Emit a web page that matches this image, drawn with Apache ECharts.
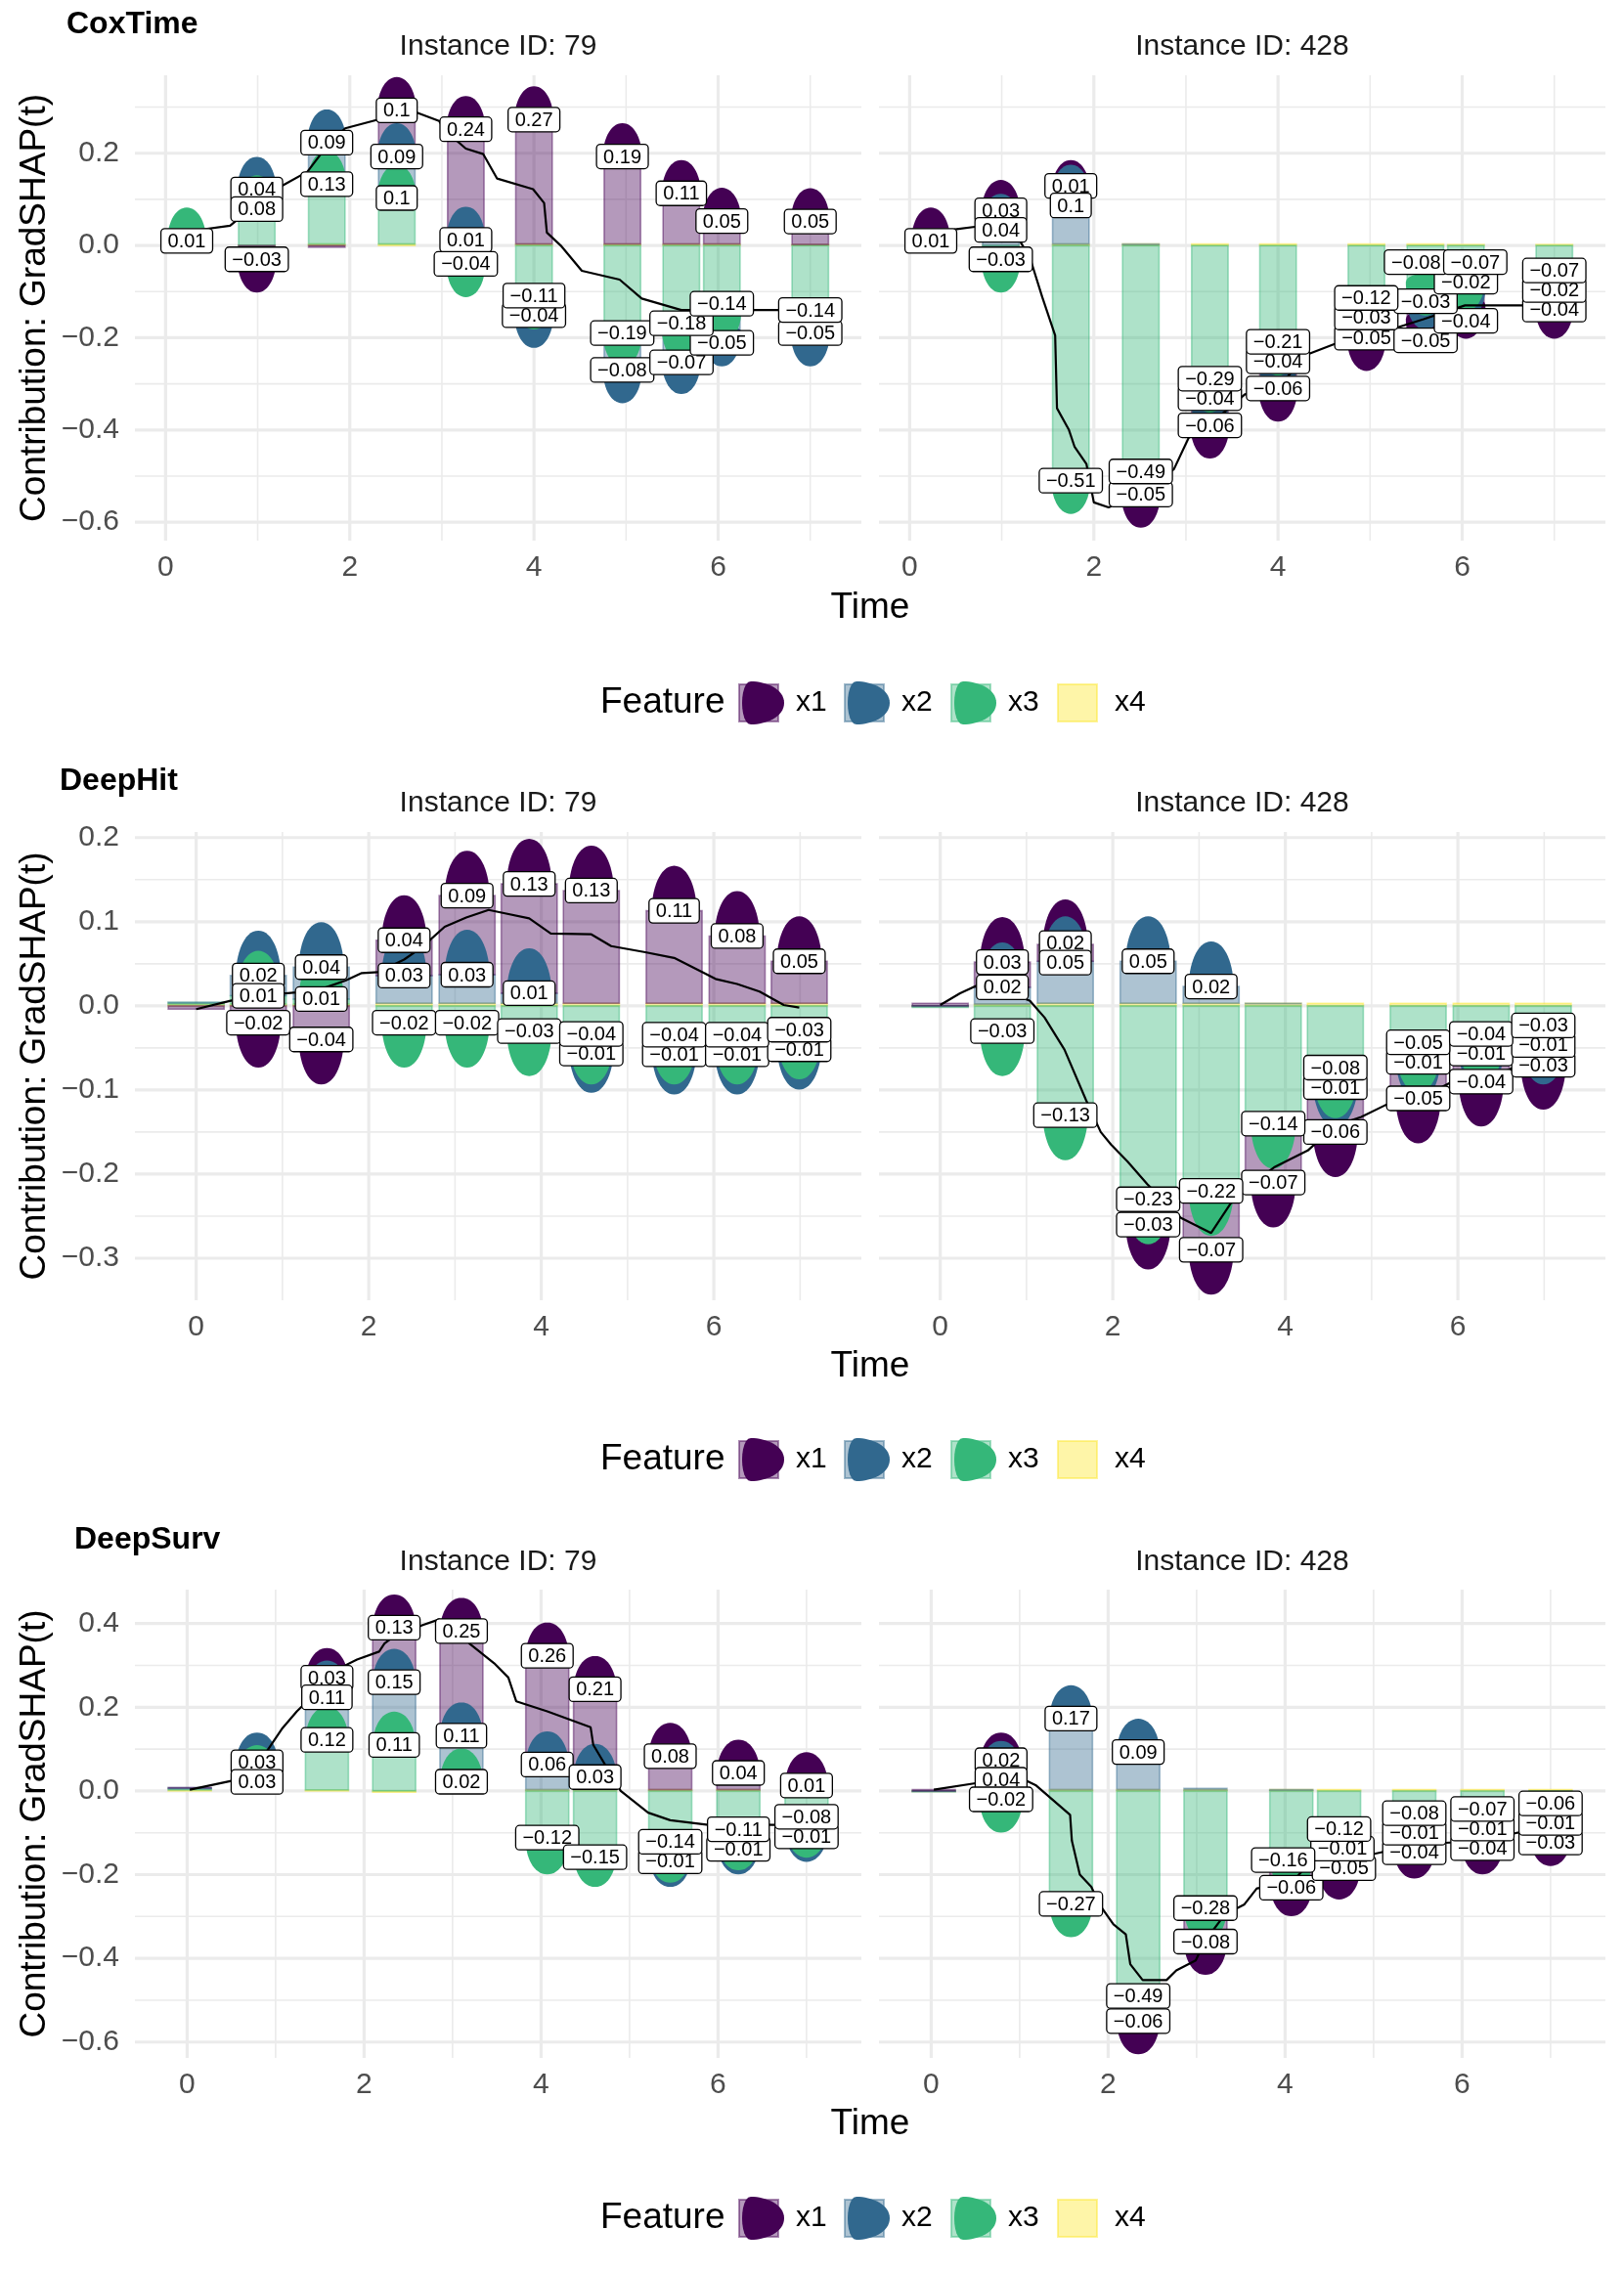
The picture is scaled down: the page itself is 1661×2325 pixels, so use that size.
<!DOCTYPE html>
<html>
<head>
<meta charset="UTF-8">
<title>GradSHAP(t) contributions</title>
<script src="https://cdn.jsdelivr.net/npm/echarts@6/dist/echarts.min.js"></script>
<style>
  body { margin: 0; background: #ffffff; }
  #chart { width: 1661px; height: 2325px; }
</style>
</head>
<body>
<div id="chart"></div>
<script>
// ---------------- data ----------------
const featureNames = ['x1', 'x2', 'x3', 'x4'];
const featureColors = ['#440154', '#31688E', '#35B779', '#FDE725'];

const xLabelValues = [0, 2, 4, 6];
const xMajor = [0, 2, 4, 6];
const xMinor = [1, 3, 5, 7];

// CoxTime
const coxTimes = [0.23, 0.99, 1.75, 2.51, 3.26, 4.0, 4.96, 5.6, 6.04, 7.0];
const coxYMajor = [-0.6, -0.4, -0.2, 0, 0.2];
const coxYMinor = [-0.5, -0.3, -0.1, 0.1, 0.3];
const cox79X1 = [0, -0.03, -0.004, 0.1, 0.24, 0.27, 0.19, 0.11, 0.05, 0.05];
const cox79X2 = [0, 0.04, 0.09, 0.09, 0.01, -0.04, -0.08, -0.07, -0.05, -0.05];
const cox79X3 = [0.01, 0.08, 0.13, 0.1, -0.04, -0.11, -0.19, -0.18, -0.14, -0.14];
const cox79X4 = [0, 0, 0.003, 0.003, 0.002, 0.003, 0.003, 0.003, 0.003, 0.002];
const cox79LineT = [0.23, 0.30, 0.70, 0.99, 1.27, 1.54, 1.75, 1.95, 2.31, 2.51, 2.73, 2.97, 3.03, 3.26, 3.45, 3.60, 3.99, 4.11, 4.14, 4.29, 4.52, 4.93, 5.17, 5.60, 6.04, 7.0];
const cox79LineY = [0.01, 0.032, 0.043, 0.09, 0.13, 0.16, 0.215, 0.254, 0.273, 0.29, 0.288, 0.27, 0.25, 0.21, 0.198, 0.145, 0.122, 0.092, 0.028, 0.0, -0.055, -0.074, -0.115, -0.14, -0.14, -0.14];
const cox428X1 = [0.01, 0.03, 0.01, -0.05, -0.06, -0.06, -0.05, -0.05, -0.04, -0.04];
const cox428X2 = [0, 0.04, 0.1, 0, -0.04, -0.04, -0.03, -0.03, -0.02, -0.02];
const cox428X3 = [0, -0.03, -0.51, -0.49, -0.29, -0.21, -0.12, -0.08, -0.07, -0.07];
const cox428X4 = [0, 0, 0.003, 0.003, 0.003, 0.003, 0.003, 0.003, 0.002, 0.002];
const cox428LineT = [0.23, 0.49, 0.73, 0.99, 1.20, 1.31, 1.44, 1.58, 1.60, 1.73, 1.79, 1.92, 2.00, 2.16, 2.51, 2.87, 3.03, 3.25, 3.64, 3.99, 4.32, 4.61, 4.94, 5.58, 6.03, 7.0];
const cox428LineY = [0.01, 0.035, 0.041, 0.04, 0.009, -0.029, -0.112, -0.195, -0.353, -0.40, -0.436, -0.474, -0.557, -0.568, -0.54, -0.485, -0.417, -0.39, -0.323, -0.31, -0.236, -0.214, -0.20, -0.16, -0.13, -0.13];

// DeepHit
const deepHitTimes = [0, 0.72, 1.45, 2.41, 3.14, 3.86, 4.58, 5.54, 6.27, 6.99];
const deepHitYMajor = [-0.3, -0.2, -0.1, 0, 0.1, 0.2];
const deepHitYMinor = [-0.25, -0.15, -0.05, 0.05, 0.15];
const deepHit79X1 = [-0.004, -0.02, -0.04, 0.042, 0.094, 0.13, 0.134, 0.11, 0.08, 0.05];
const deepHit79X2 = [0, 0.024, 0.038, 0.033, 0.034, 0.012, -0.01, -0.012, -0.012, -0.012];
const deepHit79X3 = [0.002, 0.01, 0.006, -0.02, -0.02, -0.03, -0.04, -0.04, -0.04, -0.034];
const deepHit79X4 = [0.002, 0.002, 0.002, 0.003, 0.003, 0.003, 0.003, 0.003, 0.003, 0.003];
const deepHit79LineT = [0, 0.4, 0.72, 1.16, 1.45, 1.73, 1.92, 2.11, 2.41, 2.62, 2.88, 3.13, 3.39, 3.58, 3.86, 4.11, 4.58, 4.81, 5.19, 5.54, 6.02, 6.27, 6.53, 6.81, 6.99];
const deepHit79LineY = [-0.004, 0.006, 0.012, 0.016, 0.02, 0.03, 0.039, 0.04, 0.055, 0.07, 0.094, 0.105, 0.114, 0.11, 0.104, 0.086, 0.085, 0.071, 0.064, 0.057, 0.032, 0.026, 0.017, 0.001, -0.002];
const deepHit428X1 = [0.003, 0.03, 0.02, -0.03, -0.07, -0.07, -0.06, -0.05, -0.04, -0.03];
const deepHit428X2 = [0, 0.02, 0.05, 0.05, 0.02, 0, -0.01, -0.01, -0.01, -0.01];
const deepHit428X3 = [-0.002, -0.03, -0.13, -0.23, -0.22, -0.14, -0.08, -0.05, -0.04, -0.03];
const deepHit428X4 = [0, 0.002, 0.003, 0.003, 0.003, 0.003, 0.003, 0.003, 0.003, 0.003];
const deepHit428LineT = [0, 0.23, 0.42, 0.72, 1.04, 1.21, 1.44, 1.69, 1.86, 1.98, 2.17, 2.40, 2.79, 3.14, 3.41, 3.58, 3.87, 4.26, 4.57, 4.88, 5.16, 5.56, 5.90, 6.27, 6.63, 7.0];
const deepHit428LineY = [0.001, 0.015, 0.024, 0.02, 0.006, -0.014, -0.052, -0.112, -0.15, -0.165, -0.185, -0.212, -0.252, -0.27, -0.228, -0.214, -0.192, -0.172, -0.143, -0.132, -0.118, -0.11, -0.092, -0.09, -0.074, -0.07];

// DeepSurv
const deepSurvTimes = [0.03, 0.79, 1.58, 2.34, 3.1, 4.07, 4.61, 5.46, 6.23, 7.0];
const deepSurvYMajor = [-0.6, -0.4, -0.2, 0, 0.2, 0.4];
const deepSurvYMinor = [-0.5, -0.3, -0.1, 0.1, 0.3];
const deepSurv79X1 = [0, 0, 0.03, 0.13, 0.25, 0.26, 0.21, 0.08, 0.04, 0.01];
const deepSurv79X2 = [0.003, 0.03, 0.11, 0.15, 0.11, 0.06, 0.03, -0.01, -0.01, -0.01];
const deepSurv79X3 = [0.003, 0.03, 0.12, 0.11, 0.02, -0.12, -0.15, -0.14, -0.11, -0.08];
const deepSurv79X4 = [0.002, 0, 0.002, -0.003, 0.002, 0.003, 0.003, 0.003, 0.003, 0.003];
const deepSurv79LineT = [0.03, 0.5, 0.79, 1.07, 1.24, 1.58, 1.74, 1.92, 2.17, 2.23, 2.34, 2.67, 2.85, 3.1, 3.19, 3.47, 3.63, 3.72, 4.07, 4.56, 4.59, 4.9, 5.21, 5.46, 5.89, 6.23, 6.63, 7.0];
const deepSurv79LineY = [0.003, 0.024, 0.06, 0.148, 0.19, 0.26, 0.295, 0.314, 0.333, 0.352, 0.37, 0.397, 0.41, 0.38, 0.352, 0.305, 0.271, 0.214, 0.19, 0.152, 0.11, 0.0, -0.052, -0.07, -0.081, -0.08, -0.081, -0.08];
const deepSurv428X1 = [0.003, 0.02, 0, -0.06, -0.08, -0.06, -0.05, -0.04, -0.04, -0.03];
const deepSurv428X2 = [0, 0.04, 0.17, 0.09, 0.003, 0, -0.01, -0.01, -0.01, -0.01];
const deepSurv428X3 = [-0.002, -0.02, -0.27, -0.49, -0.28, -0.16, -0.12, -0.08, -0.07, -0.06];
const deepSurv428X4 = [0, 0, 0.003, 0.003, 0.003, 0.003, 0.003, 0.003, 0.003, 0.003];
const deepSurv428LineT = [0.03, 0.52, 0.79, 1.02, 1.18, 1.57, 1.59, 1.68, 1.81, 1.90, 2.06, 2.20, 2.25, 2.39, 2.66, 2.77, 2.99, 3.09, 3.32, 3.54, 3.68, 4.07, 4.26, 4.60, 4.97, 5.45, 5.80, 6.22, 6.62, 7.0];
const deepSurv428LineY = [0.003, 0.019, 0.035, 0.03, 0.014, -0.057, -0.119, -0.2, -0.229, -0.271, -0.319, -0.343, -0.414, -0.452, -0.452, -0.429, -0.405, -0.36, -0.295, -0.271, -0.233, -0.22, -0.176, -0.18, -0.152, -0.13, -0.124, -0.12, -0.1, -0.1];

// ---------------- layout ----------------
const FONT = '"Liberation Sans", Arial, Helvetica, sans-serif';
const LABEL_FONT = '20px ' + FONT;
const panelLeft = [138, 899];
const panelWidth = 743;
const legendKeyLeft = [756, 864, 973, 1082];

const models = [
  { name: 'CoxTime', times: coxTimes, top: 77, bottom: 553,
    xMin: -0.333, xMax: 7.555, yMin: -0.640, yMax: 0.369,
    yMajor: coxYMajor, yMinor: coxYMinor, blob: { hw: 20, len: 34, back: 12 },
    titleX: 68, titleY: 25, stripY: 48, timeY: 622, legendY: 719,
    panels: [
      { id: 79, vals: [cox79X1, cox79X2, cox79X3, cox79X4], lineT: cox79LineT, lineY: cox79LineY },
      { id: 428, vals: [cox428X1, cox428X2, cox428X3, cox428X4], lineT: cox428LineT, lineY: cox428LineY }
    ] },
  { name: 'DeepHit', times: deepHitTimes, top: 851, bottom: 1330,
    xMin: -0.71, xMax: 7.71, yMin: -0.35, yMax: 0.2067,
    yMajor: deepHitYMajor, yMinor: deepHitYMinor, blob: { hw: 23, len: 46, back: 13 },
    titleX: 61, titleY: 799, stripY: 822, timeY: 1398, legendY: 1493,
    panels: [
      { id: 79, vals: [deepHit79X1, deepHit79X2, deepHit79X3, deepHit79X4], lineT: deepHit79LineT, lineY: deepHit79LineY },
      { id: 428, vals: [deepHit428X1, deepHit428X2, deepHit428X3, deepHit428X4], lineT: deepHit428LineT, lineY: deepHit428LineY }
    ] },
  { name: 'DeepSurv', times: deepSurvTimes, top: 1626, bottom: 2105,
    xMin: -0.59, xMax: 7.62, yMin: -0.638, yMax: 0.481,
    yMajor: deepSurvYMajor, yMinor: deepSurvYMinor, blob: { hw: 22, len: 34, back: 12 },
    titleX: 76, titleY: 1575, stripY: 1598, timeY: 2173, legendY: 2269,
    panels: [
      { id: 79, vals: [deepSurv79X1, deepSurv79X2, deepSurv79X3, deepSurv79X4], lineT: deepSurv79LineT, lineY: deepSurv79LineY },
      { id: 428, vals: [deepSurv428X1, deepSurv428X2, deepSurv428X3, deepSurv428X4], lineT: deepSurv428LineT, lineY: deepSurv428LineY }
    ] }
];

// ---------------- helpers ----------------
function rgba(hex, a) {
  const n = parseInt(hex.slice(1), 16);
  return 'rgba(' + (n >> 16) + ',' + ((n >> 8) & 255) + ',' + (n & 255) + ',' + a + ')';
}
function fmtValue(v) {
  return String(Math.round(v * 100) / 100).replace('-', '\u2212');
}
function shown(v) { return Math.abs(Math.round(v * 100)) >= 1; }

const measureCtx = document.createElement('canvas').getContext('2d');
function textWidth(s, font) { measureCtx.font = font; return measureCtx.measureText(s).width; }

function cubic(p0, p1, p2, p3, n, out) {
  for (let i = 1; i <= n; i++) {
    const s = i / n, a = 1 - s;
    out.push([
      a * a * a * p0[0] + 3 * a * a * s * p1[0] + 3 * a * s * s * p2[0] + s * s * s * p3[0],
      a * a * a * p0[1] + 3 * a * a * s * p1[1] + 3 * a * s * s * p2[1] + s * s * s * p3[1]
    ]);
  }
}
// rounded arrow-head ("blob"), local coords u = outward, v = across
function blobPoints(cx, cy, uDir, vDir, hw, len, back) {
  const loc = [[0, -hw]];
  cubic([0, -hw], [len * 0.45, -hw], [len, -hw * 0.66], [len, 0], 16, loc);
  cubic([len, 0], [len, hw * 0.66], [len * 0.45, hw], [0, hw], 16, loc);
  cubic([0, hw], [-back, hw], [-back, -hw], [0, -hw], 12, loc);
  return loc.map(([u, v]) => [cx + uDir[0] * u + vDir[0] * v, cy + uDir[1] * u + vDir[1] * v]);
}

function stackPanel(times, vals) {
  const segs = [];
  times.forEach((t, i) => {
    let pos = 0, neg = 0;
    for (let f = 3; f >= 0; f--) {
      const v = vals[f][i];
      let y0, y1;
      if (v >= 0) { y0 = pos; y1 = pos + v; pos = y1; } else { y0 = neg; y1 = neg + v; neg = y1; }
      segs.push({ t, f, v, y0, y1, i });
    }
  });
  return segs;
}

function repel(boxes, bounds) {
  const PADX = -4, PADY = -5;
  for (let it = 0; it < 500; it++) {
    let any = false;
    for (let i = 0; i < boxes.length; i++) {
      for (let j = i + 1; j < boxes.length; j++) {
        const a = boxes[i], b = boxes[j];
        const ox = (a.w + b.w) / 2 + PADX - Math.abs(a.x - b.x);
        const oy = (a.h + b.h) / 2 + PADY - Math.abs(a.y - b.y);
        if (ox <= 0 || oy <= 0) continue;
        any = true;
        if (ox < oy) {
          const s = Math.sign(a.x - b.x) || (a.ax <= b.ax ? -1 : 1);
          a.x += s * ox * 0.3; b.x -= s * ox * 0.3;
        } else {
          let s = Math.sign(a.y - b.y);
          if (!s) s = a.ay === b.ay ? -1 : (a.ay < b.ay ? -1 : 1);
          a.y += s * oy * 0.3; b.y -= s * oy * 0.3;
        }
      }
    }
    boxes.forEach(b => {
      b.x = Math.min(Math.max(b.x, bounds.x0 + b.w / 2), bounds.x1 - b.w / 2);
      b.y = Math.min(Math.max(b.y, bounds.y0 + b.h / 2), bounds.y1 - b.h / 2);
    });
    if (!any) break;
  }
}

// ---------------- build option ----------------
const grids = [], xAxes = [], yAxes = [], series = [], graphics = [];

models.forEach((m) => {
  const diffs = m.times.slice(1).map((t, i) => t - m.times[i]);
  const bw = 0.9 * Math.min.apply(null, diffs);

  m.panels.forEach((p, pi) => {
    const gi = grids.length;
    grids.push({ left: panelLeft[pi], top: m.top, width: panelWidth, height: m.bottom - m.top, containLabel: false });
    xAxes.push({
      gridIndex: gi, type: 'value', min: m.xMin, max: m.xMax,
      axisLine: { show: false }, axisTick: { show: false }, splitLine: { show: false },
      axisLabel: { customValues: xLabelValues, fontSize: 30, color: '#4D4D4D', margin: 13, fontFamily: FONT,
        formatter: v => String(v) }
    });
    yAxes.push({
      gridIndex: gi, type: 'value', min: m.yMin, max: m.yMax,
      axisLine: { show: false }, axisTick: { show: false }, splitLine: { show: false },
      axisLabel: { show: pi === 0, customValues: m.yMajor, fontSize: 30, color: '#4D4D4D', margin: 16, fontFamily: FONT,
        formatter: v => v.toFixed(1).replace('-', '\u2212') }
    });

    // grid lines
    series.push({
      type: 'custom', xAxisIndex: gi, yAxisIndex: gi, silent: true, z: 1, data: [[0, 0]],
      renderItem: (params, api) => {
        const ch = [];
        const add = (a, b, w) => ch.push({ type: 'line', shape: { x1: a[0], y1: a[1], x2: b[0], y2: b[1] },
          style: { stroke: '#EBEBEB', lineWidth: w } });
        xMinor.forEach(v => add(api.coord([v, m.yMin]), api.coord([v, m.yMax]), 1.6));
        m.yMinor.forEach(v => add(api.coord([m.xMin, v]), api.coord([m.xMax, v]), 1.6));
        xMajor.forEach(v => add(api.coord([v, m.yMin]), api.coord([v, m.yMax]), 3.2));
        m.yMajor.forEach(v => add(api.coord([m.xMin, v]), api.coord([m.xMax, v]), 3.2));
        return { type: 'group', children: ch };
      }
    });

    const segs = stackPanel(m.times, p.vals);

    // stacked bars
    series.push({
      type: 'custom', xAxisIndex: gi, yAxisIndex: gi, silent: true, z: 2,
      data: segs.map(s => [s.t, s.y0, s.y1, s.f]),
      renderItem: (params, api) => {
        const t = api.value(0), y0 = api.value(1), y1 = api.value(2), f = api.value(3);
        const a = api.coord([t - bw / 2, Math.max(y0, y1)]);
        const b = api.coord([t + bw / 2, Math.min(y0, y1)]);
        return { type: 'rect', shape: { x: a[0], y: a[1], width: b[0] - a[0], height: Math.max(b[1] - a[1], 0.5) },
          style: { fill: rgba(featureColors[f], 0.4), stroke: rgba(featureColors[f], 0.45), lineWidth: 1.6 } };
      }
    });

    const marks = segs.filter(s => s.f < 3 && shown(s.v)).sort((a, b) => a.f - b.f || a.i - b.i);

    // arrow-head blobs
    series.push({
      type: 'custom', xAxisIndex: gi, yAxisIndex: gi, silent: true, z: 3,
      data: marks.map(s => [s.t, s.y1, s.f, s.v >= 0 ? 1 : -1]),
      renderItem: (params, api) => {
        const c = api.coord([api.value(0), api.value(1)]);
        const dir = api.value(3);
        return { type: 'polygon',
          shape: { points: blobPoints(c[0], c[1], [0, -dir], [1, 0], m.blob.hw, m.blob.len, m.blob.back) },
          style: { fill: featureColors[api.value(2)] } };
      }
    });

    // total contribution line
    series.push({
      type: 'line', xAxisIndex: gi, yAxisIndex: gi, silent: true, z: 4,
      data: p.lineT.map((t, i) => [t, p.lineY[i]]),
      showSymbol: false, symbol: 'none',
      lineStyle: { color: '#000000', width: 2.2 }
    });

    // value labels (repelled)
    series.push({
      type: 'custom', xAxisIndex: gi, yAxisIndex: gi, silent: true, z: 5, data: [[0, 0]],
      renderItem: (params, api) => {
        const tl = api.coord([m.xMin, m.yMax]), br = api.coord([m.xMax, m.yMin]);
        const boxes = marks.map(s => {
          const c = api.coord([s.t, s.y1]);
          const text = fmtValue(s.v);
          return { x: c[0], y: c[1], ax: c[0], ay: c[1], w: textWidth(text, LABEL_FONT) + 14, h: 25, text };
        });
        repel(boxes, { x0: tl[0], y0: tl[1], x1: br[0], y1: br[1] });
        const ch = [];
        boxes.forEach(b => {
          ch.push({ type: 'rect', shape: { x: b.x - b.w / 2, y: b.y - b.h / 2, width: b.w, height: b.h, r: 4 },
            style: { fill: '#ffffff', stroke: '#000000', lineWidth: 1.3 } });
          ch.push({ type: 'text', x: b.x, y: b.y + 1,
            style: { text: b.text, font: LABEL_FONT, fill: '#000000', align: 'center', verticalAlign: 'middle' } });
        });
        return { type: 'group', children: ch };
      }
    });

    graphics.push({ type: 'text', x: panelLeft[pi] + panelWidth / 2, y: m.stripY,
      style: { text: 'Instance ID: ' + p.id, font: '30px ' + FONT, fill: '#1A1A1A', align: 'center', verticalAlign: 'middle' } });
  });

  graphics.push({ type: 'text', x: m.titleX, y: m.titleY,
    style: { text: m.name, font: 'bold 32px ' + FONT, fill: '#000000', align: 'left', verticalAlign: 'middle' } });
  graphics.push({ type: 'text', x: 890, y: m.timeY,
    style: { text: 'Time', font: '37px ' + FONT, fill: '#000000', align: 'center', verticalAlign: 'middle' } });
  graphics.push({ type: 'text', x: 36, y: (m.top + m.bottom) / 2, rotation: Math.PI / 2,
    style: { text: 'Contribution: GradSHAP(t)', font: '37px ' + FONT, fill: '#000000', align: 'center', verticalAlign: 'middle' } });

  // legend
  const ly = m.legendY;
  graphics.push({ type: 'text', x: 614, y: ly,
    style: { text: 'Feature', font: '37px ' + FONT, fill: '#000000', align: 'left', verticalAlign: 'middle' } });
  featureNames.forEach((name, k) => {
    const x0 = legendKeyLeft[k], c = featureColors[k];
    graphics.push({ type: 'rect', shape: { x: x0, y: ly - 19, width: 40, height: 38 },
      style: { fill: rgba(c, 0.4), stroke: rgba(c, 0.45), lineWidth: 2 } });
    if (k < 3) {
      graphics.push({ type: 'polygon', shape: { points: blobPoints(x0 + 12, ly, [1, 0], [0, 1], 22, 34, 12) },
        style: { fill: c } });
    }
    graphics.push({ type: 'text', x: x0 + 58, y: ly,
      style: { text: name, font: '30px ' + FONT, fill: '#000000', align: 'left', verticalAlign: 'middle' } });
  });
});

const chart = echarts.init(document.getElementById('chart'));
chart.setOption({
  animation: false,
  backgroundColor: '#ffffff',
  grid: grids,
  xAxis: xAxes,
  yAxis: yAxes,
  series: series,
  graphic: { elements: graphics }
});
</script>
</body>
</html>
